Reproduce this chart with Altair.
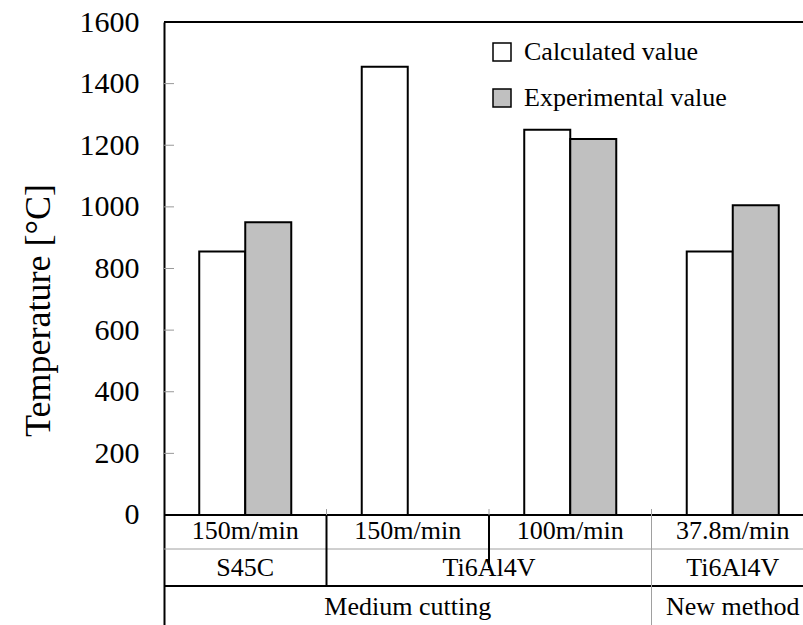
import altair as alt
import pandas as pd

# Cutting conditions (one band per condition along x)
conditions = ["S45C 150m/min", "Ti6Al4V 150m/min", "Ti6Al4V 100m/min", "Ti6Al4V 37.8m/min"]
speeds = ["150m/min", "150m/min", "100m/min", "37.8m/min"]
series = ["Calculated value", "Experimental value"]

# Temperatures [°C]
calculated = [855, 1455, 1250, 855]
experimental = [950, None, 1220, 1005]

y_ticks = [0, 200, 400, 600, 800, 1000, 1200, 1400, 1600]
inner_ticks = [200, 400, 600, 800, 1000, 1200, 1400]

FONT = "Liberation Serif"
W, H = 639, 603

rows = []
for cond, c, e in zip(conditions, calculated, experimental):
    rows.append({"condition": cond, "series": series[0], "value": c})
    if e is not None:
        rows.append({"condition": cond, "series": series[1], "value": e})
bars_df = pd.DataFrame(rows)

x_scale = alt.Scale(domain=conditions, range=[0, 650], paddingInner=0, paddingOuter=0)
y_scale = alt.Scale(domain=[-357, 1600], nice=False, zero=False)

y_axis = alt.Axis(
    values=y_ticks,
    format="d",
    ticks=False,
    grid=False,
    domainColor="black",
    domainWidth=2,
    labelFont=FONT,
    labelFontSize=30,
    labelColor="black",
    labelPadding=25,
    title="Temperature [°C]",
    titleFont=FONT,
    titleFontSize=36,
    titleFontWeight="normal",
    titleColor="black",
    titleAngle=270,
    titleAlign="center",
    titleBaseline="middle",
    titleX=-126,
    titleY=288,
)

bars = alt.Chart(bars_df).mark_bar(stroke="black", strokeWidth=2).encode(
    x=alt.X("condition:N", scale=x_scale, axis=None),
    xOffset=alt.XOffset("series:N", scale=alt.Scale(domain=series, paddingInner=0, paddingOuter=0.766)),
    y=alt.Y("value:Q", scale=y_scale, axis=y_axis),
    y2=alt.datum(0),
    fill=alt.Fill(
        "series:N",
        scale=alt.Scale(domain=series, range=["white", "#c0c0c0"]),
        legend=alt.Legend(
            title=None,
            orient="none",
            legendX=325,
            legendY=17,
            padding=0,
            symbolType="square",
            symbolSize=324,
            symbolStrokeColor="black",
            symbolStrokeWidth=1.5,
            labelFont=FONT,
            labelFontSize=26,
            labelColor="black",
            labelOffset=9,
            labelLimit=0,
            rowPadding=20,
        ),
    ),
)

# Small inward tick marks on the temperature axis
ticks = alt.Chart(pd.DataFrame({"value": inner_ticks})).mark_rule(color="#999999", strokeWidth=1).encode(
    y=alt.Y("value:Q", scale=y_scale, axis=y_axis),
    x=alt.value(0),
    x2=alt.value(10),
)

# Frame lines: top border and the zero line
top_line = alt.Chart(pd.DataFrame({"value": [1600]})).mark_rule(color="black", strokeWidth=2).encode(
    y=alt.Y("value:Q", scale=y_scale, axis=y_axis), x=alt.value(0), x2=alt.value(W)
)
zero_line = alt.Chart(pd.DataFrame({"value": [0]})).mark_rule(color="black", strokeWidth=2).encode(
    y=alt.Y("value:Q", scale=y_scale, axis=y_axis), x=alt.value(0), x2=alt.value(W)
)

# Condition table under the bars
Y_AXIS, Y_R1, Y_R2, Y_BOTTOM = 493, 527, 564, 603

row_sep1 = alt.Chart(pd.DataFrame({"v": [0]})).mark_rule(color="#a0a0a0", strokeWidth=1).encode(
    x=alt.value(0), x2=alt.value(W), y=alt.value(Y_R1)
)
row_sep2 = alt.Chart(pd.DataFrame({"v": [0]})).mark_rule(color="black", strokeWidth=2).encode(
    x=alt.value(0), x2=alt.value(W), y=alt.value(Y_R2)
)

def boundary(cond, y1, y2, color, width):
    return alt.Chart(pd.DataFrame({"condition": [cond]})).mark_rule(color=color, strokeWidth=width).encode(
        x=alt.X("condition:N", scale=x_scale, bandPosition=0, axis=None),
        y=alt.value(y1),
        y2=alt.value(y2),
    )

sep_a = boundary(conditions[1], Y_AXIS, Y_R2, "black", 2)
sep_b = boundary(conditions[2], Y_AXIS, 546, "black", 2)
sep_c = boundary(conditions[3], Y_AXIS, Y_BOTTOM, "#a0a0a0", 1)

cat_ticks = alt.Chart(pd.DataFrame({"condition": conditions[1:]})).mark_rule(color="#a0a0a0", strokeWidth=1).encode(
    x=alt.X("condition:N", scale=x_scale, bandPosition=0, axis=None),
    y=alt.value(Y_AXIS - 6),
    y2=alt.value(Y_AXIS),
)

def text_layer(cond_list, labels, ypix, band=0.5):
    df = pd.DataFrame({"condition": cond_list, "label": labels})
    return alt.Chart(df).mark_text(
        font=FONT, fontSize=26, color="black", align="center", baseline="middle"
    ).encode(
        x=alt.X("condition:N", scale=x_scale, bandPosition=band, axis=None),
        y=alt.value(ypix),
        text="label:N",
    )

speed_text = text_layer(conditions, speeds, 509)
material_text = text_layer([conditions[0], conditions[3]], ["S45C", "Ti6Al4V"], 546)
material_span = text_layer([conditions[2]], ["Ti6Al4V"], 546, band=0)
method_text = text_layer([conditions[1], conditions[3]], ["Medium cutting", "New method"], 585)

chart = alt.layer(
    bars, ticks, top_line, zero_line, row_sep1, row_sep2, sep_a, sep_b, sep_c, cat_ticks,
    speed_text, material_text, material_span, method_text,
).properties(
    width=W,
    height=H,
    padding={"left": 164, "top": 22, "right": 0, "bottom": 0},
    autosize=alt.AutoSizeParams(type="none"),
    background="white",
).configure_view(stroke=None)

chart.save("out.html", embed_options={"renderer": "svg", "actions": False})
